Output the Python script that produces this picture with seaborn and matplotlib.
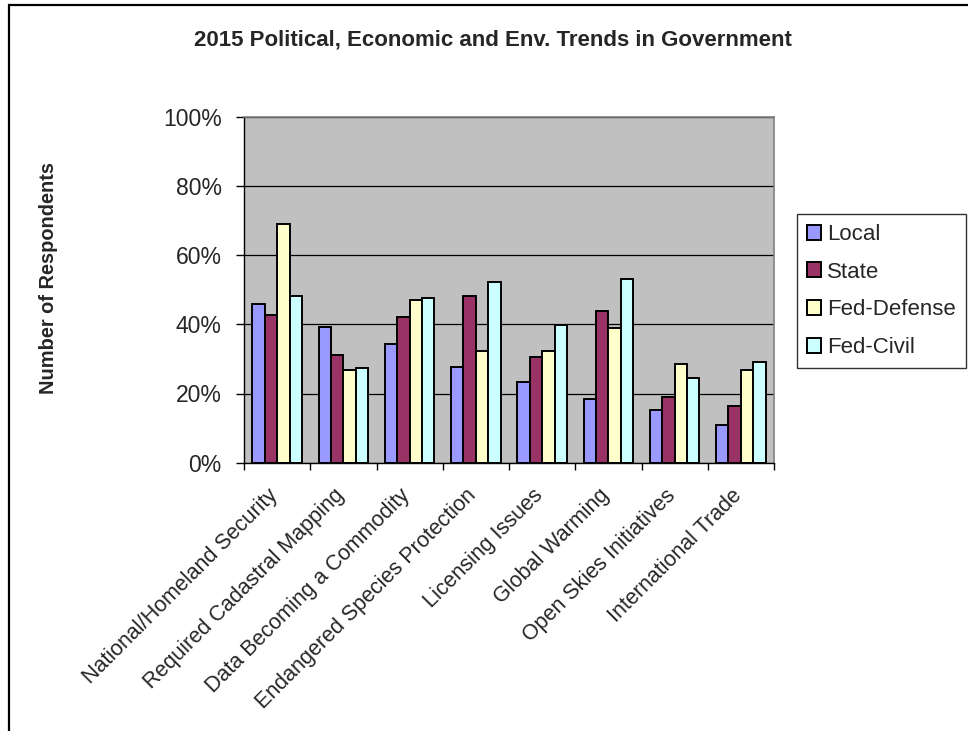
import numpy as np
import pandas as pd
import matplotlib
matplotlib.use("Agg")
import matplotlib.pyplot as plt
import matplotlib.transforms as mtransforms
import seaborn as sns
from matplotlib.patches import Rectangle
from matplotlib.ticker import FuncFormatter

categories = [
    "National/Homeland Security",
    "Required Cadastral Mapping",
    "Data Becoming a Commodity",
    "Endangered Species Protection",
    "Licensing Issues",
    "Global Warming",
    "Open Skies Initiatives",
    "International Trade",
]
groups = ["Local", "State", "Fed-Defense", "Fed-Civil"]

local = [46.0, 39.3, 34.3, 27.8, 23.4, 18.5, 15.1, 10.8]
state = [42.7, 31.2, 42.1, 48.1, 30.6, 43.9, 19.0, 16.4]
fed_defense = [69.1, 26.8, 47.0, 32.3, 32.3, 38.8, 28.4, 26.8]
fed_civil = [48.1, 27.3, 47.6, 52.1, 39.8, 53.1, 24.5, 29.0]

colors = ["#9999ff", "#993366", "#ffffcc", "#ccffff"]

# long format for seaborn
rows = []
for g, vals in zip(groups, [local, state, fed_defense, fed_civil]):
    for c, v in zip(categories, vals):
        rows.append({"topic": c, "group": g, "pct": v})
df = pd.DataFrame(rows)

sns.set_style("white")
plt.rcParams["font.family"] = ["Liberation Sans", "DejaVu Sans"]

W, H = 968, 731
fig = plt.figure(figsize=(W / 100, H / 100), dpi=100)
ax = fig.add_axes([244 / W, 1 - 462.7 / H, (774 - 244) / W, (462.7 - 116.7) / H])

sns.barplot(
    data=df, x="topic", y="pct", hue="group",
    order=categories, hue_order=groups,
    palette=colors, width=0.75, gap=0,
    edgecolor="black", linewidth=1.4,
    saturation=1, ax=ax, legend=True,
)

ax.set_facecolor("#c0c0c0")
ax.set_ylim(0, 100)
ax.set_xlim(-0.5, len(categories) - 0.5)
ax.set_yticks(np.arange(0, 101, 20))
ax.yaxis.set_major_formatter(FuncFormatter(lambda v, p: f"{int(v)}%"))
ax.yaxis.grid(True, color="black", linewidth=0.9)
ax.set_axisbelow(True)

for s in ["top", "right"]:
    ax.spines[s].set_color("#808080")
    ax.spines[s].set_linewidth(1.2)
for s in ["left", "bottom"]:
    ax.spines[s].set_color("black")
    ax.spines[s].set_linewidth(1.0)

ax.tick_params(axis="y", which="major", direction="out", length=6, width=1,
               color="black", labelsize=16.5, pad=10, left=True)
ax.set_xticks(np.arange(-0.5, len(categories), 1.0), minor=True)
ax.tick_params(axis="x", which="minor", direction="out", length=5, width=1,
               color="black", bottom=True)
ax.tick_params(axis="x", which="major", length=0, pad=8, labelsize=15.5)
ax.set_xticks(range(len(categories)))
ax.set_xticklabels(categories, rotation=45, ha="right", va="top",
                   rotation_mode="anchor")
shift = mtransforms.ScaledTranslation(-0.10, -0.11, fig.dpi_scale_trans)
for lbl in ax.get_xticklabels():
    lbl.set_transform(lbl.get_transform() + shift)

ax.set_xlabel("")
ax.set_ylabel("")

fig.text(49 / W, 1 - 278 / H, "Number of Respondents", rotation=90,
         ha="center", va="center", fontsize=14.4, fontweight="bold")
fig.text(493 / W, 1 - 40 / H, "2015 Political, Economic and Env. Trends in Government",
         ha="center", va="center", fontsize=16, fontweight="bold")

# legend
handles, labels = ax.get_legend_handles_labels()
ax.get_legend().remove()
leg = fig.legend(handles, labels, loc="upper left",
                 bbox_to_anchor=(797 / W, 1 - 214 / H),
                 frameon=True, fancybox=False, fontsize=16,
                 handlelength=0.65, handleheight=0.65, handletextpad=0.25,
                 labelspacing=0.75, borderpad=0.45, borderaxespad=0)
leg.get_frame().set_edgecolor("black")
leg.get_frame().set_linewidth(1.0)

# outer chart border
fig.patches.append(Rectangle((9 / W, -0.05), 1.1, (1 - 5 / H) + 0.05,
                             transform=fig.transFigure, fill=False,
                             edgecolor="black", linewidth=1.6))

fig.savefig("out.png", dpi=100)
